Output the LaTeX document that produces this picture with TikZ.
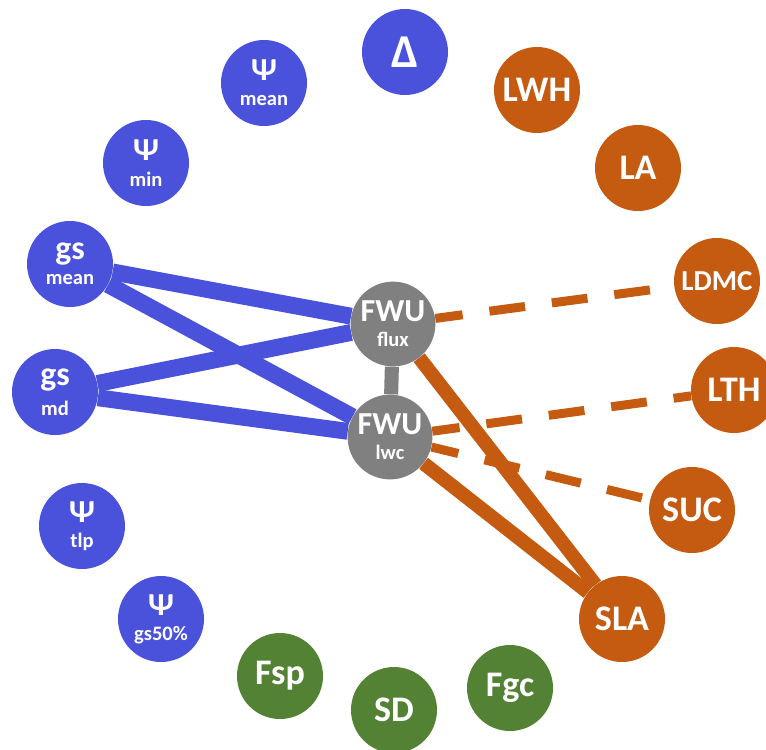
\documentclass[tikz,border=0pt]{standalone}
\usepackage{fontspec}
\setmainfont{Carlito}
\usetikzlibrary{backgrounds}

\definecolor{traitblue}{HTML}{4A52DC}
\definecolor{traitorange}{HTML}{C55A11}
\definecolor{traitgreen}{HTML}{548235}
\definecolor{fwugray}{HTML}{808080}

\newcommand{\toplbl}[1]{{\fontsize{25.6}{26}\selectfont #1}}
\newcommand{\twolbl}[3]{{\fontsize{#1}{#1}\selectfont #2}\\[6pt]{\fontsize{14.6}{14.6}\selectfont #3}}

\begin{document}
\begin{tikzpicture}[
        trait/.style={circle,inner sep=0pt,minimum size=2.15cm,text=white,font=\bfseries,align=center},
        blue trait/.style={trait,fill=traitblue},
        orange trait/.style={trait,fill=traitorange},
        green trait/.style={trait,fill=traitgreen},
        fwu trait/.style={trait,fill=fwugray,minimum size=2.12cm},
        blue link/.style={traitblue,line width=12pt},
        orange link/.style={traitorange,line width=10pt},
        orange dash/.style={traitorange,line width=6.4pt,dash pattern=on 25.6pt off 19.2pt,dash phase=6pt},
        gray link/.style={fwugray,line width=10pt}
    ]
        \useasboundingbox (0,0) rectangle (19.15,-18.725);
        \clip (0,0) rectangle (19.15,-18.725);

        % climate / hydraulic traits
        \node[blue trait] (delta) at (10.125,-1.3) {{\fontsize{33.5}{34}\selectfont Δ}};
        \node[blue trait] (psimean) at (6.6,-2.075) {\twolbl{22.8}{Ψ}{mean}};
        \node[blue trait] (psimin) at (3.65,-4.075) {\twolbl{22.8}{Ψ}{min}};
        \node[blue trait] (gsmean) at (1.75,-6.6) {\twolbl{24}{gs}{mean}};
        \node[blue trait] (gsmd) at (1.375,-9.8) {\twolbl{24}{gs}{md}};
        \node[blue trait] (psitlp) at (2.05,-13.15) {\twolbl{22.8}{Ψ}{tlp}};
        \node[blue trait] (psigs) at (4.025,-15.475) {\twolbl{22.8}{Ψ}{gs50\%}};

        % leaf traits
        \node[orange trait] (lwh) at (13.425,-2.25) {\toplbl{LWH}};
        \node[orange trait] (la) at (15.95,-4.2) {\toplbl{LA}};
        \node[orange trait] (ldmc) at (17.925,-7.025) {{\fontsize{20.6}{21}\selectfont LDMC}};
        \node[orange trait] (lth) at (18.35,-9.75) {\toplbl{LTH}};
        \node[orange trait] (suc) at (17.3,-12.75) {\toplbl{SUC}};
        \node[orange trait] (sla) at (15.55,-15.475) {\toplbl{SLA}};

        % stand traits
        \node[green trait] (fsp) at (7.0,-16.9) {\toplbl{Fsp}};
        \node[green trait] (sd) at (9.85,-17.75) {\toplbl{SD}};
        \node[green trait] (fgc) at (12.75,-17.2) {\toplbl{Fgc}};

        % foliar water uptake
        \node[fwu trait] (flux) at (9.825,-8.1) {\twolbl{22.8}{FWU}{flux}};
        \node[fwu trait] (lwc) at (9.75,-10.925) {\twolbl{22.8}{FWU}{lwc}};

        \begin{pgfonlayer}{background}
            \draw[gray link] (flux) -- (lwc);
            \draw[blue link] (gsmean) -- (flux);
            \draw[blue link] (gsmean) -- (lwc);
            \draw[blue link] (gsmd) -- (flux);
            \draw[blue link] (gsmd) -- (lwc);
            \draw[orange dash] (flux) -- (ldmc);
            \draw[orange dash] (lwc) -- (lth);
            \draw[orange dash] (lwc) -- (suc);
            \draw[orange link] (flux) -- (sla);
            \draw[orange link] (lwc) -- (sla);
        \end{pgfonlayer}
    \end{tikzpicture}
\end{document}
